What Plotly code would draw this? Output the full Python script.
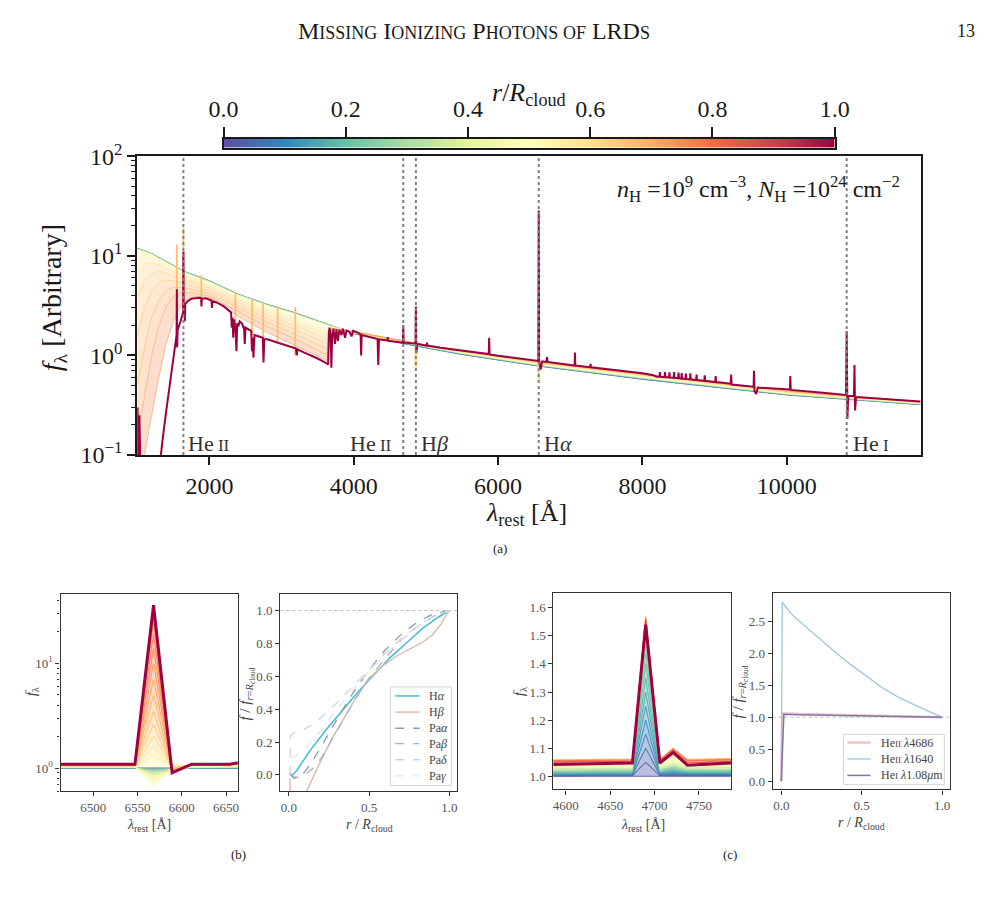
import re
import math
import plotly.graph_objects as go
from plotly.colors import sample_colorscale

W, H = 1002, 902
SERIF = "Liberation Serif"
INK = "#1a1a1a"
GTXT = "#555555"
AXC = "#333333"

# ================= (a) main panel data =================
lam_uv = [1000, 1100, 1200, 1300, 1400, 1500, 1640, 1800, 2000, 2400, 2800, 3200, 3640]
lam_tail = [3700, 4000, 4861, 5500, 6563, 8000, 10000, 11850]
r_main = [0.0, 0.1, 0.25, 0.4, 0.5, 0.55, 0.6, 0.63, 0.66, 0.69, 0.72, 0.75]

uv_r000 = [11.9, 11.2, 10.5, 9.6, 8.8, 8.0, 7.0, 6.3, 5.6, 4.1, 3.25, 2.65, 2.05]
uv_r010 = [11.9, 11.2, 10.5, 9.6, 8.8, 8.0, 7.0, 6.3, 5.6, 4.1, 3.25, 2.65, 2.05]
uv_r025 = [11.9, 11.2, 10.5, 9.6, 8.8, 8.0, 7.0, 6.3, 5.6, 4.1, 3.25, 2.65, 2.05]
uv_r040 = [11.8, 11.1, 10.4, 9.5, 8.7, 7.9, 6.9, 6.2, 5.5, 4.05, 3.2, 2.6, 2.0]
uv_r050 = [11.3, 10.8, 10.1, 9.3, 8.5, 7.7, 6.7, 6.0, 5.35, 3.9, 3.05, 2.45, 1.88]
uv_r055 = [9.8, 10.0, 9.6, 8.9, 8.1, 7.4, 6.5, 5.8, 5.15, 3.75, 2.9, 2.3, 1.75]
uv_r060 = [7.0, 8.2, 8.5, 8.1, 7.5, 6.9, 6.2, 5.55, 4.95, 3.6, 2.75, 2.15, 1.6]
uv_r063 = [3.8, 5.6, 6.7, 7.0, 6.7, 6.3, 5.8, 5.25, 4.7, 3.4, 2.55, 1.98, 1.45]
uv_r066 = [1.6, 3.0, 4.5, 5.4, 5.7, 5.6, 5.3, 4.9, 4.45, 3.2, 2.35, 1.8, 1.3]
uv_r069 = [0.5, 1.2, 2.4, 3.6, 4.5, 4.8, 4.8, 4.55, 4.2, 3.0, 2.15, 1.62, 1.15]
uv_r072 = [0.15, 0.4, 1.0, 2.0, 3.1, 3.9, 4.3, 4.2, 3.95, 2.75, 1.95, 1.45, 1.0]
uv_r075 = [0.07, 0.1, 0.25, 0.6, 1.3, 2.2, 3.5, 3.9, 3.8, 2.45, 1.7, 1.25, 0.88]

tail_r000 = [1.95, 1.65, 1.24, 1.02, 0.78, 0.575, 0.40, 0.32]
tail_r010 = [1.95, 1.655, 1.245, 1.025, 0.782, 0.578, 0.402, 0.321]
tail_r025 = [1.95, 1.665, 1.255, 1.035, 0.79, 0.585, 0.405, 0.323]
tail_r040 = [1.95, 1.68, 1.27, 1.05, 0.80, 0.595, 0.41, 0.326]
tail_r050 = [1.93, 1.69, 1.28, 1.06, 0.815, 0.605, 0.415, 0.329]
tail_r055 = [1.90, 1.70, 1.29, 1.07, 0.825, 0.615, 0.42, 0.332]
tail_r060 = [1.88, 1.71, 1.30, 1.08, 0.835, 0.625, 0.425, 0.335]
tail_r063 = [1.87, 1.72, 1.31, 1.09, 0.845, 0.632, 0.43, 0.338]
tail_r066 = [1.86, 1.72, 1.315, 1.10, 0.85, 0.638, 0.435, 0.34]
tail_r069 = [1.85, 1.73, 1.32, 1.105, 0.855, 0.642, 0.438, 0.341]
tail_r072 = [1.85, 1.73, 1.325, 1.11, 0.86, 0.645, 0.44, 0.342]
tail_r075 = [1.85, 1.735, 1.33, 1.115, 0.865, 0.648, 0.442, 0.343]

# r = 1 (outermost) spectrum, read in three pieces
lam_red_uv = [1000, 1005, 1010, 1020, 1030, 1036, 1050, 1100, 1200, 1250,
              1300, 1350, 1400, 1450, 1500, 1530, 1545, 1549, 1553, 1560,
              1600, 1636, 1640, 1644, 1655, 1660, 1665, 1700, 1750, 1800,
              1860, 1885, 1890, 1895, 1950, 2000, 2030, 2035, 2040, 2100,
              2200, 2300, 2310, 2320, 2330, 2340, 2360, 2375, 2385, 2400,
              2420, 2450, 2480, 2490, 2500, 2580, 2590, 2600, 2610, 2625,
              2700, 2740, 2750, 2760, 2800, 2900, 3000, 3100, 3200, 3210,
              3220, 3300, 3400, 3500, 3600, 3645]
f_red_uv = [0.03, 0.30, 0.04, 0.03, 0.25, 0.05, 0.04, 0.03, 0.02, 0.03,
            0.07, 0.14, 0.27, 0.50, 0.90, 1.30, 1.60, 4.60, 1.20, 1.80,
            2.20, 2.70, 11.0, 2.90, 3.20, 2.20, 3.30, 3.50, 3.70, 3.75,
            3.78, 3.75, 3.10, 3.70, 3.74, 3.65, 3.55, 3.00, 3.50, 3.40,
            3.10, 2.70, 1.90, 2.40, 1.50, 2.30, 1.90, 1.10, 2.10, 1.95,
            2.20, 2.10, 1.85, 1.30, 1.90, 1.75, 1.10, 1.50, 0.95, 1.60,
            1.55, 1.50, 0.85, 1.45, 1.45, 1.38, 1.30, 1.24, 1.17, 1.00,
            1.15, 1.08, 1.01, 0.93, 0.85, 0.81]

lam_red_opt = [3655, 3665, 3680, 3690, 3700, 3720, 3740, 3760, 3780, 3800,
               3830, 3850, 3880, 3900, 3940, 3970, 3990, 4050, 4095, 4102,
               4110, 4200, 4330, 4340, 4350, 4465, 4471, 4477, 4600, 4680,
               4686, 4692, 4800, 4855, 4861, 4867, 4880, 5010, 5015, 5020,
               5200, 5500, 5870, 5876, 5882, 6000, 6200, 6400, 6550, 6557,
               6563, 6569, 6589, 6611, 6670, 6678, 6686, 7000, 7060, 7065,
               7070, 7275, 7281, 7287, 7500, 8000]
f_red_opt = [1.70, 1.90, 1.60, 0.75, 1.50, 1.85, 1.30, 1.82, 1.40, 1.80,
             1.60, 1.85, 1.50, 1.78, 1.72, 1.55, 1.76, 1.70, 1.62, 1.00,
             1.60, 1.53, 1.46, 0.80, 1.45, 1.41, 1.52, 1.40, 1.36, 1.34,
             2.00, 1.34, 1.32, 1.31, 3.10, 1.05, 1.30, 1.25, 1.34, 1.25,
             1.19, 1.12, 1.03, 1.50, 1.02, 0.99, 0.95, 0.91, 0.88, 0.88,
             28.5, 0.87, 0.72, 0.87, 0.86, 0.96, 0.86, 0.80, 0.79, 1.07,
             0.79, 0.76, 0.82, 0.76, 0.73, 0.66]

lam_red_ir = [8150, 8200, 8236, 8242, 8248, 8306, 8312, 8318, 8368, 8374,
              8380, 8432, 8438, 8444, 8494, 8500, 8506, 8538, 8544, 8550,
              8596, 8602, 8608, 8658, 8664, 8670, 8744, 8750, 8756, 8857,
              8863, 8869, 9009, 9015, 9021, 9223, 9229, 9235, 9540, 9546,
              9552, 9575, 9600, 10043, 10049, 10055, 10500, 10820, 10830, 10840,
              10850, 10860, 10930, 10938, 10946, 10960, 11000, 11500, 11850]
f_red_ir = [0.63, 0.61, 0.61, 0.68, 0.61, 0.605, 0.68, 0.605, 0.60, 0.675,
            0.60, 0.595, 0.68, 0.595, 0.59, 0.67, 0.59, 0.585, 0.665, 0.585,
            0.58, 0.655, 0.58, 0.575, 0.66, 0.575, 0.565, 0.64, 0.565, 0.555,
            0.63, 0.555, 0.54, 0.62, 0.54, 0.52, 0.64, 0.51, 0.485, 0.70,
            0.44, 0.41, 0.475, 0.455, 0.62, 0.45, 0.42, 0.40, 1.75, 0.23,
            0.38, 0.39, 0.39, 0.80, 0.28, 0.38, 0.38, 0.36, 0.345]

# emission spikes seen on the intermediate (orange) spectra
spike_lam = [1549, 1640, 1888, 2360, 2590, 2745, 2945, 3190]
spike_base = [2.0, 3.0, 3.8, 2.0, 1.6, 1.5, 1.35, 1.0]
spike_top = [13.0, 19.0, 6.4, 4.3, 3.6, 3.4, 3.1, 3.05]
# absorption dips seen on the yellow spectra
dip_lam = [4861, 6563]
dip_base = [1.25, 0.80]
dip_bottom = [0.75, 0.55]

mark_lam = [1640, 4686, 4861, 6563, 10830]
xtick_main = [2000, 4000, 6000, 8000, 10000]
cbar_ticks = [0.0, 0.2, 0.4, 0.6, 0.8, 1.0]

# ================= (b) left: H-alpha zoom =================
lam_b = [6455, 6547, 6568, 6589, 6611, 6654, 6675]
r_b = [0.0, 0.05, 0.1, 0.15, 0.2, 0.25, 0.3, 0.35, 0.4, 0.45, 0.5, 0.55,
       0.58, 0.61, 0.64, 0.67, 0.7, 0.72, 0.74, 0.76, 0.78, 0.8, 0.9, 1.0]
cont_b = [1.0, 1.0, 1.0, 1.003, 1.006, 1.01, 1.014, 1.018, 1.022, 1.027, 1.032, 1.04,
          1.045, 1.05, 1.055, 1.06, 1.065, 1.07, 1.073, 1.076, 1.079, 1.082, 1.086, 1.09]
peak_b = [1.0, 0.99, 0.975, 0.96, 0.94, 0.92, 0.89, 0.86, 0.82, 0.76, 0.68, 1.3,
          1.6, 2.0, 2.6, 3.5, 5.0, 7.0, 10.0, 14.0, 19.0, 26.0, 32.0, 36.0]
post_b = [1.0, 1.0, 0.995, 0.99, 0.985, 0.98, 0.975, 0.97, 0.965, 0.96, 1.0, 1.05,
          1.04, 1.02, 1.0, 0.98, 0.96, 0.95, 0.94, 0.93, 0.92, 0.91, 0.905, 0.9]
right_b = [1.0, 1.0, 1.0, 1.003, 1.006, 1.01, 1.014, 1.018, 1.022, 1.027, 1.045, 1.07,
           1.07, 1.07, 1.07, 1.07, 1.072, 1.074, 1.076, 1.078, 1.08, 1.083, 1.086, 1.09]
edge_b = [1.0, 1.0, 1.0, 1.0, 1.01, 1.02, 1.02, 1.03, 1.03, 1.04, 1.06, 1.09,
          1.1, 1.1, 1.11, 1.11, 1.12, 1.12, 1.13, 1.13, 1.14, 1.15, 1.16, 1.17]

# ================= (b) right: line ratios =================
r_ha = [0.006, 0.016, 0.046, 0.127, 0.228, 0.329, 0.429, 0.530, 0.631, 0.732, 0.833, 0.933, 1.0]
f_ha = [0.01, -0.006, 0.024, 0.142, 0.270, 0.389, 0.503, 0.609, 0.714, 0.803, 0.892, 0.961, 1.0]
r_hb = [0.006, 0.012, 0.117, 0.1875, 0.268, 0.349, 0.429, 0.510, 0.591, 0.671, 0.752, 0.833, 0.893, 0.944, 0.974, 1.0]
f_hb = [-0.02, -0.3, -0.085, 0.063, 0.221, 0.359, 0.487, 0.596, 0.669, 0.724, 0.763, 0.807, 0.852, 0.911, 0.961, 1.0]
r_pa = [0.006, 0.03, 0.06, 0.1, 0.15, 0.2, 0.3, 0.4, 0.5, 0.6, 0.7, 0.8, 0.9, 1.0]
f_paa = [0.01, -0.02, -0.02, 0.02, 0.09, 0.17, 0.34, 0.50, 0.64, 0.76, 0.855, 0.93, 0.98, 1.0]
f_pab = [0.0, -0.01, -0.015, 0.0, 0.04, 0.10, 0.27, 0.44, 0.59, 0.71, 0.82, 0.90, 0.965, 1.0]
r_pad = [0.006, 0.01, 0.03, 0.06, 0.1, 0.15, 0.2, 0.3, 0.4, 0.5, 0.6, 0.7, 0.8, 0.9, 1.0]
f_pad = [0.0, 0.24, 0.255, 0.265, 0.28, 0.31, 0.35, 0.44, 0.54, 0.64, 0.74, 0.83, 0.905, 0.965, 1.0]
r_pag = [0.01, 0.05, 0.1, 0.2, 0.3, 0.4, 0.5, 0.6, 0.7, 0.8, 0.9, 1.0]
f_pag = [0.1, 0.12, 0.16, 0.27, 0.40, 0.52, 0.63, 0.73, 0.82, 0.9, 0.96, 1.0]
leg_b_names = ["H<i>α</i>", "H<i>β</i>", "Pa<i>α</i>", "Pa<i>β</i>", "Pa<i>δ</i>", "Pa<i>γ</i>"]

# ================= (c) left: He II 4686 zoom =================
lam_c = [4580, 4675, 4690, 4706, 4721, 4737, 4795]
r_c = [0.0, 0.025, 0.05, 0.075, 0.1, 0.125, 0.15, 0.175, 0.2, 0.225, 0.25, 0.275,
       0.3, 0.35, 0.4, 0.45, 0.5, 0.55, 0.6, 0.65, 0.7, 0.8, 0.9, 1.0]
contL_c = [1.0, 1.001, 1.002, 1.003, 1.005, 1.007, 1.009, 1.011, 1.013, 1.015, 1.017, 1.019,
           1.021, 1.026, 1.031, 1.036, 1.041, 1.046, 1.051, 1.055, 1.058, 1.055, 1.05, 1.041]
contR_c = [1.0, 1.002, 1.004, 1.006, 1.008, 1.010, 1.012, 1.014, 1.016, 1.018, 1.020, 1.022,
           1.024, 1.029, 1.034, 1.039, 1.044, 1.049, 1.054, 1.058, 1.061, 1.058, 1.053, 1.047]
peak_c = [1.0, 1.05, 1.10, 1.15, 1.20, 1.25, 1.30, 1.35, 1.40, 1.44, 1.47, 1.49,
          1.50, 1.51, 1.52, 1.53, 1.54, 1.55, 1.56, 1.565, 1.57, 1.565, 1.555, 1.54]
bump_c = [1.0, 1.003, 1.006, 1.009, 1.012, 1.015, 1.018, 1.021, 1.024, 1.027, 1.030, 1.033,
          1.036, 1.043, 1.05, 1.056, 1.062, 1.068, 1.075, 1.085, 1.1, 1.097, 1.092, 1.085]
post2_c = [1.0, 1.002, 1.004, 1.006, 1.008, 1.010, 1.012, 1.014, 1.016, 1.018, 1.020, 1.022,
           1.024, 1.029, 1.034, 1.039, 1.044, 1.049, 1.054, 1.057, 1.06, 1.055, 1.047, 1.039]
right_c = [1.0, 1.002, 1.004, 1.006, 1.008, 1.010, 1.012, 1.014, 1.016, 1.018, 1.020, 1.022,
           1.024, 1.030, 1.036, 1.041, 1.046, 1.051, 1.056, 1.06, 1.064, 1.06, 1.054, 1.049]

# ================= (c) right: He line ratios =================
r_he1640 = [0.0, 0.006, 0.03, 0.06, 0.127, 0.227, 0.327, 0.428, 0.528, 0.628, 0.729, 0.829, 0.93, 1.0]
f_he1640 = [0.0, 2.80, 2.72, 2.62, 2.47, 2.25, 2.035, 1.83, 1.64, 1.46, 1.31, 1.19, 1.076, 1.0]
r_he4686 = [0.0, 0.006, 0.12, 0.4, 0.7, 1.0]
f_he4686 = [0.0, 1.06, 1.05, 1.035, 1.02, 1.0]
r_he108 = [0.0, 0.016, 0.12, 0.4, 0.7, 1.0]
f_he108 = [0.0, 1.045, 1.04, 1.03, 1.015, 1.0]


# ================= helpers =================
def rgba(c, a):
    n = re.findall(r"[\d.]+", c)
    return f"rgba({float(n[0]):.0f},{float(n[1]):.0f},{float(n[2]):.0f},{a})"


def dx(a, b):
    return [a / W, b / W]


def dy(top, bottom):
    return [1 - bottom / H, 1 - top / H]


def sc(s, size):
    return f"<span style='font-size:{size}px'>{s}</span>"


leg_c_names = ["He" + sc("II", 9) + " <i>λ</i>4686", "He" + sc("II", 9) + " <i>λ</i>1640",
               "He" + sc("I", 9) + " <i>λ</i>1.08<i>μ</i>m"]

fig = go.Figure()

# ---- main panel spectra ----
uv_all = [uv_r000, uv_r010, uv_r025, uv_r040, uv_r050, uv_r055, uv_r060, uv_r063,
          uv_r066, uv_r069, uv_r072, uv_r075]
tail_all = [tail_r000, tail_r010, tail_r025, tail_r040, tail_r050, tail_r055, tail_r060,
            tail_r063, tail_r066, tail_r069, tail_r072, tail_r075]
cols_main = sample_colorscale("Spectral_r", r_main)
for i, (uv, tl) in enumerate(zip(uv_all, tail_all)):
    fig.add_trace(go.Scatter(
        x=lam_uv + lam_tail, y=uv + tl, mode="lines",
        line=dict(color=rgba(cols_main[i], 0.6 if i > 3 else 0.9), width=0.9),
        fill="tonexty" if i > 0 else "none", fillcolor=rgba(cols_main[i], 0.3),
        xaxis="x", yaxis="y", showlegend=False, hoverinfo="skip"))

sx, sy = [], []
for lm, b, t in zip(spike_lam, spike_base, spike_top):
    sx += [lm, lm, None]
    sy += [b, t, None]
fig.add_trace(go.Scatter(x=sx, y=sy, mode="lines", line=dict(color="#fdbd6c", width=1.8),
                         xaxis="x", yaxis="y", showlegend=False, hoverinfo="skip"))
ddx, ddy = [], []
for lm, b, t in zip(dip_lam, dip_base, dip_bottom):
    ddx += [lm, lm, None]
    ddy += [b, t, None]
fig.add_trace(go.Scatter(x=ddx, y=ddy, mode="lines", line=dict(color="#fee08b", width=3),
                         xaxis="x", yaxis="y", showlegend=False, hoverinfo="skip"))
fig.add_trace(go.Scatter(
    x=lam_red_uv + lam_red_opt + lam_red_ir, y=f_red_uv + f_red_opt + f_red_ir,
    mode="lines", line=dict(color="#9e0142", width=2.0),
    xaxis="x", yaxis="y", showlegend=False, hoverinfo="skip"))

# ---- colour bar (heatmap strip) ----
fig.add_trace(go.Heatmap(x=cbar_ticks, y=[0, 1], z=[cbar_ticks, cbar_ticks], zsmooth="best",
                         colorscale="Spectral_r", zmin=0, zmax=1, showscale=False,
                         xaxis="x6", yaxis="y6", hoverinfo="skip"))

# ---- (b) left ----
cols_b = sample_colorscale("Spectral_r", r_b)
for i in range(len(r_b)):
    is_red = i == len(r_b) - 1
    yv = [cont_b[i], cont_b[i], peak_b[i], post_b[i], right_b[i], right_b[i], edge_b[i]]
    fig.add_trace(go.Scatter(
        x=lam_b, y=yv, mode="lines",
        line=dict(color="#9e0142" if is_red else rgba(cols_b[i], 0.85), width=3 if is_red else 1.1),
        fill="tonexty" if (0 < i < len(r_b) - 1) else "none", fillcolor=rgba(cols_b[i], 0.35),
        xaxis="x2", yaxis="y2", showlegend=False, hoverinfo="skip"))

# ---- (b) right ----
style_b = [dict(color="#3cbfd6", width=1.5), dict(color="#d8b49f", width=1.3),
           dict(color="#8d99a6", width=1.3, dash="dash"), dict(color="#a3b3c2", width=1.3, dash="dash"),
           dict(color="#c8d5df", width=1.3, dash="dash"), dict(color="#e1e7ec", width=1.3, dash="dash")]
curves_b = [(r_ha, f_ha), (r_hb, f_hb), (r_pa, f_paa), (r_pa, f_pab), (r_pad, f_pad), (r_pag, f_pag)]
for (xs, ys), st in zip(curves_b, style_b):
    fig.add_trace(go.Scatter(x=xs, y=ys, mode="lines", line=st, xaxis="x3", yaxis="y3",
                             showlegend=False, hoverinfo="skip"))

# ---- (c) left ----
cols_c = sample_colorscale("Spectral_r", r_c)
for i in range(len(r_c)):
    is_red = i == len(r_c) - 1
    yv = [contL_c[i], contR_c[i], peak_c[i], contR_c[i], bump_c[i], post2_c[i], right_c[i]]
    fig.add_trace(go.Scatter(
        x=lam_c, y=yv, mode="lines",
        line=dict(color="#9e0142" if is_red else rgba(cols_c[i], 0.85), width=3 if is_red else 1.1),
        fill="tonexty" if (0 < i < len(r_c) - 1) else "none", fillcolor=rgba(cols_c[i], 0.4),
        xaxis="x4", yaxis="y4", showlegend=False, hoverinfo="skip"))

# ---- (c) right ----
style_c = [dict(color="rgba(246,176,186,0.75)", width=2.6), dict(color="#9cc8df", width=1.3),
           dict(color="#7e76a9", width=1.5)]
curves_c = [(r_he4686, f_he4686), (r_he1640, f_he1640), (r_he108, f_he108)]
for (xs, ys), st in zip(curves_c, style_c):
    fig.add_trace(go.Scatter(x=xs, y=ys, mode="lines", line=st, xaxis="x5", yaxis="y5",
                             showlegend=False, hoverinfo="skip"))

# ================= axes =================
main_tick = dict(family=SERIF, size=24, color=INK)
small_tick = dict(family=SERIF, size=13, color=GTXT)


def small_ax(**kw):
    d = dict(showline=True, linecolor=AXC, linewidth=1.2, mirror=True, ticks="outside",
             ticklen=4, tickwidth=1, tickcolor=AXC, tickfont=small_tick, showgrid=False,
             zeroline=False)
    d.update(kw)
    return d


minor_main = [k * 10 ** e for e in (-1, 0, 1) for k in range(2, 10)]
minor_b = [0.6, 0.7, 0.8, 0.9] + [k for k in range(2, 10)] + [20, 30, 40]

layout = dict(
    width=W, height=H, margin=dict(l=0, r=0, t=0, b=0), autosize=False,
    paper_bgcolor="white", plot_bgcolor="white", showlegend=False,
    xaxis=dict(domain=dx(126, 934), range=[1000, 11860], anchor="y",
               tickvals=xtick_main, ticktext=[str(v) for v in xtick_main],
               ticks="outside", ticklen=8,
               tickwidth=1.5, tickcolor=INK, tickfont=main_tick, showline=True,
               linecolor=INK, linewidth=2, mirror=True, showgrid=False, zeroline=False),
    yaxis=dict(domain=dy(144, 453), type="log", range=[-1, 2], anchor="x",
               tickvals=[0.1, 1, 10, 100],
               ticktext=["10<sup>−1</sup>", "10<sup>0</sup>", "10<sup>1</sup>", "10<sup>2</sup>"],
               ticks="outside", ticklen=8, tickwidth=1.5, tickcolor=INK, tickfont=main_tick,
               minor=dict(tickvals=minor_main, ticks="outside", ticklen=4, tickwidth=1, tickcolor=INK),
               showline=True, linecolor=INK, linewidth=2, mirror=True, showgrid=False, zeroline=False),
    xaxis2=small_ax(domain=dx(47, 229.5), range=[6463, 6663], anchor="y2",
                    tickvals=[6500, 6550, 6600, 6650]),
    yaxis2=small_ax(domain=dy(597, 801), type="log", range=[math.log10(0.6), math.log10(45.8)],
                    anchor="x2", tickvals=[1, 10], ticktext=["10<sup>0</sup>", "10<sup>1</sup>"],
                    minor=dict(tickvals=minor_b, ticks="outside", ticklen=2.5, tickcolor=AXC)),
    xaxis3=small_ax(domain=dx(273.5, 456), range=[-0.054, 1.05], anchor="y3",
                    tickvals=[0, 0.5, 1.0], ticktext=["0.0", "0.5", "1.0"]),
    yaxis3=small_ax(domain=dy(597, 801), range=[-0.1, 1.1], anchor="x3",
                    tickvals=[0, 0.2, 0.4, 0.6, 0.8, 1.0],
                    ticktext=["0.0", "0.2", "0.4", "0.6", "0.8", "1.0"]),
    xaxis4=small_ax(domain=dx(555, 738), range=[4586, 4786], anchor="y4",
                    tickvals=[4600, 4650, 4700, 4750]),
    yaxis4=small_ax(domain=dy(596, 799), range=[0.953, 1.652], anchor="x4",
                    tickvals=[1.0, 1.1, 1.2, 1.3, 1.4, 1.5, 1.6],
                    ticktext=["1.0", "1.1", "1.2", "1.3", "1.4", "1.5", "1.6"]),
    xaxis5=small_ax(domain=dx(781, 964), range=[-0.054, 1.05], anchor="y5",
                    tickvals=[0, 0.5, 1.0], ticktext=["0.0", "0.5", "1.0"]),
    yaxis5=small_ax(domain=dy(596, 799), range=[-0.13, 2.94], anchor="x5",
                    tickvals=[0, 0.5, 1.0, 1.5, 2.0, 2.5],
                    ticktext=["0.0", "0.5", "1.0", "1.5", "2.0", "2.5"]),
    xaxis6=dict(domain=dx(215, 845), range=[0, 1], anchor="y6", side="top",
                tickvals=cbar_ticks, ticktext=[f"{v:.1f}" for v in cbar_ticks],
                ticks="outside", ticklen=10, tickwidth=1.5, tickcolor=INK, tickfont=main_tick,
                showline=True, linecolor=INK, linewidth=2, mirror=True, showgrid=False, zeroline=False),
    yaxis6=dict(domain=dy(126, 135), range=[0, 1], anchor="x6", showticklabels=False,
                ticks="", showline=True, linecolor=INK, linewidth=2, mirror=True, showgrid=False,
                zeroline=False),
)
fig.update_layout(**layout)

# ================= shapes =================
shapes = []


def pshape(kind, x0, y0, x1, y1, **kw):
    d = dict(type=kind, xref="paper", yref="paper", x0=x0 / W, x1=x1 / W,
             y0=1 - y0 / H, y1=1 - y1 / H)
    d.update(kw)
    shapes.append(d)


for lm in mark_lam:
    shapes.append(dict(type="line", xref="x", yref="y domain", x0=lm, x1=lm, y0=0, y1=1,
                       line=dict(color="#808080", width=2, dash="dot"), layer="above"))
for xa, ya in (("x3", "y3"), ("x5", "y5")):
    shapes.append(dict(type="line", xref=f"{xa} domain", yref=ya, x0=0, x1=1, y0=1.0, y1=1.0,
                       line=dict(color="#bbbbbb", width=1, dash="dot"), layer="below"))

# hand-built legends (b) and (c)
pshape("rect", 387, 693, 450, 795, line=dict(color="#d4d4d4", width=1),
       fillcolor="rgba(255,255,255,0.85)", layer="above")
rows_b = [702.3, 719, 735.7, 751.7, 768.3, 785]
for yy, st in zip(rows_b, style_b):
    pshape("line", 392, yy, 417, yy, line=st, layer="above")
pshape("rect", 854, 742, 958, 794, line=dict(color="#d4d4d4", width=1),
       fillcolor="rgba(255,255,255,0.85)", layer="above")
rows_c = [750.5, 767.5, 784.5]
for yy, st in zip(rows_c, style_c):
    pshape("line", 858, yy, 882, yy, line=st, layer="above")
fig.update_layout(shapes=shapes)

# ================= annotations =================
ann = []


def txt(text, x, y, size, color=INK, xanchor="center", yanchor="middle", angle=0, **kw):
    d = dict(text=text, x=x / W, y=1 - y / H, xref="paper", yref="paper", showarrow=False,
             xanchor=xanchor, yanchor=yanchor, textangle=angle,
             font=dict(family=SERIF, size=size, color=color))
    d.update(kw)
    ann.append(d)


txt("M" + sc("ISSING", 18) + " I" + sc("ONIZING", 18) + " P" + sc("HOTONS OF", 18)
    + " LRD" + sc("S", 18), 473, 14, 24)
txt("13", 992, 14, 18, xanchor="right")
txt("<i>r</i>/<i>R</i><sub>cloud</sub>", 530, 80, 26)
txt("<i>n</i><sub>H</sub> =10<sup>9</sup> cm<sup>−3</sup>, <i>N</i><sub>H</sub> =10<sup>24</sup> cm<sup>−2</sup>",
    914, 178, 24, xanchor="right")
txt("<i>f</i><sub>λ</sub> [Arbitrary]", 40, 290, 28, angle=-90)
txt("<i>λ</i><sub>rest</sub> [Å]", 527, 514, 26)
txt("(a)", 500, 550, 13)
txt("(b)", 230, 866, 13)
txt("(c)", 737, 866, 13)

lab_y = 1 - 441 / H
line_labels = [("He" + sc(" II", 17), 1640, "left", 3),
               ("He" + sc(" II", 17), 4686, "right", -9),
               ("H<i>β</i>", 4861, "left", 3),
               ("H<i>α</i>", 6563, "left", 3),
               ("He" + sc(" I", 17), 10830, "left", 4)]
for t, lm, anc, sh in line_labels:
    ann.append(dict(text=t, x=lm, y=lab_y, xref="x", yref="paper", showarrow=False,
                    xanchor=anc, yanchor="middle", xshift=sh,
                    font=dict(family=SERIF, size=22, color="#333")))

for yy, name in zip(rows_b, leg_b_names):
    txt(name, 425, yy, 12, color="#444", xanchor="left")
for yy, name in zip(rows_c, leg_c_names):
    txt(name, 891, yy, 12, color="#444", xanchor="left")

# small panel axis titles
txt("<i>f</i><sub>λ</sub>", 17, 697, 15, color="#444", angle=-90)
txt("<i>f</i><sub>λ</sub>", 520, 697, 15, color="#444", angle=-90)
txt("<i>f</i> / <i>f</i><sub><i>r</i>=<i>R</i><sub>cloud</sub></sub>", 239, 700, 15, color="#444", angle=-90)
txt("<i>f</i> / <i>f</i><sub><i>r</i>=<i>R</i><sub>cloud</sub></sub>", 747, 698, 15, color="#444", angle=-90)
txt("<i>λ</i><sub>rest</sub> [Å]", 138, 836, 14, color="#444")
txt("<i>r</i> / <i>R</i><sub>cloud</sub>", 365, 836, 14, color="#444")
txt("<i>λ</i><sub>rest</sub> [Å]", 647, 836, 14, color="#444")
txt("<i>r</i> / <i>R</i><sub>cloud</sub>", 873, 834, 14, color="#444")

fig.update_layout(annotations=ann)
fig.write_html("out.html",
               post_script="document.body.style.margin='0';document.body.style.overflow='hidden';")
